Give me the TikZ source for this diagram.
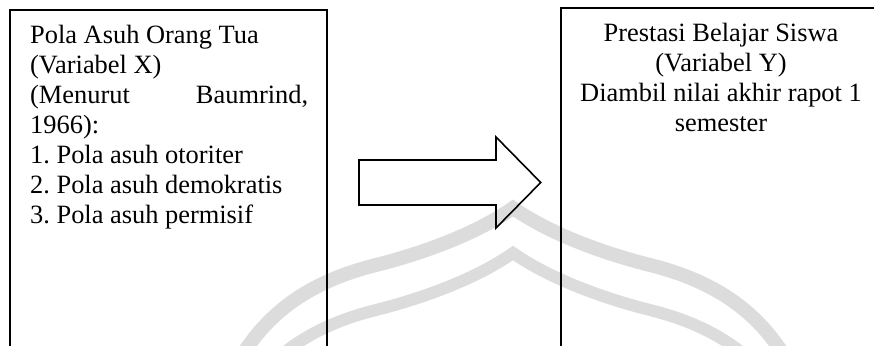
\documentclass[tikz,border=0pt]{standalone}
\usepackage{fontspec}
\setmainfont{Liberation Serif}
\frenchspacing
\definecolor{wm}{RGB}{220,220,220}
\tikzset{
  frame/.style={draw=black, line width=1.7pt, inner sep=0pt, anchor=north west},
  arrowbody/.style={draw=black, line width=1.6pt, line join=miter},
  wmline/.style={draw=wm, line join=miter, line cap=butt},
  txt/.style={inner sep=0pt, font=\fontsize{26.4}{30}\selectfont},
  ltxt/.style={txt, anchor=base west},
  rtxt/.style={txt, anchor=base},
}
\begin{document}
\begin{tikzpicture}[x=1pt,y=-1pt]
\useasboundingbox (0,0) rectangle (874,345);
\fill[white] (0,0) rectangle (874,345);
\clip (0,0) rectangle (874,345);
% watermark arches
\draw[wmline, line width=14pt] (226,377) -- (249,345)
  .. controls (281,300) and (326,277.5) .. (376,265)
  .. controls (416,255) and (473,236) .. (513,208)
  .. controls (553,236) and (610,255) .. (650,265)
  .. controls (700,277.5) and (745,300) .. (777,345) -- (800,377);
\begin{scope}[shift={(0,45)}]
\draw[wmline, line width=12pt] (226,377) -- (249,345)
  .. controls (281,300) and (326,277.5) .. (376,265)
  .. controls (416,255) and (473,236) .. (513,208)
  .. controls (553,236) and (610,255) .. (650,265)
  .. controls (700,277.5) and (745,300) .. (777,345) -- (800,377);
\end{scope}
% boxes
\node[frame, minimum width=317pt, minimum height=420pt] (boxX) at (9,9) {};
\node[frame, minimum width=400pt, minimum height=420pt] (boxY) at (560,7) {};
% left text
\node[ltxt] (x1) at (30,43.5) {Pola Asuh Orang Tua};
\node[ltxt] (x2) at (30,73.5) {(Variabel X)};
\node[ltxt] (x3) at (30,103.5) {\hbox to 278pt{(Menurut\hfill Baumrind,}};
\node[ltxt] (x4) at (30,133.5) {1966):};
\node[ltxt] (x5) at (30,163.5) {1. Pola asuh otoriter};
\node[ltxt] (x6) at (30,193.5) {2. Pola asuh demokratis};
\node[ltxt] (x7) at (30,223.5) {3. Pola asuh permisif};
% right text
\node[rtxt] (y1) at (721,41.7) {Prestasi Belajar Siswa};
\node[rtxt] (y2) at (721,71.7) {(Variabel Y)};
\node[rtxt] (y3) at (721,101.7) {Diambil nilai akhir rapot 1};
\node[rtxt] (y4) at (721,131.7) {semester};
% block arrow
\draw[arrowbody] (359,160) -- (496,160) -- (496,137) -- (540.7,182.5)
  -- (496,228) -- (496,205) -- (359,205) -- cycle;
\end{tikzpicture}
\end{document}
